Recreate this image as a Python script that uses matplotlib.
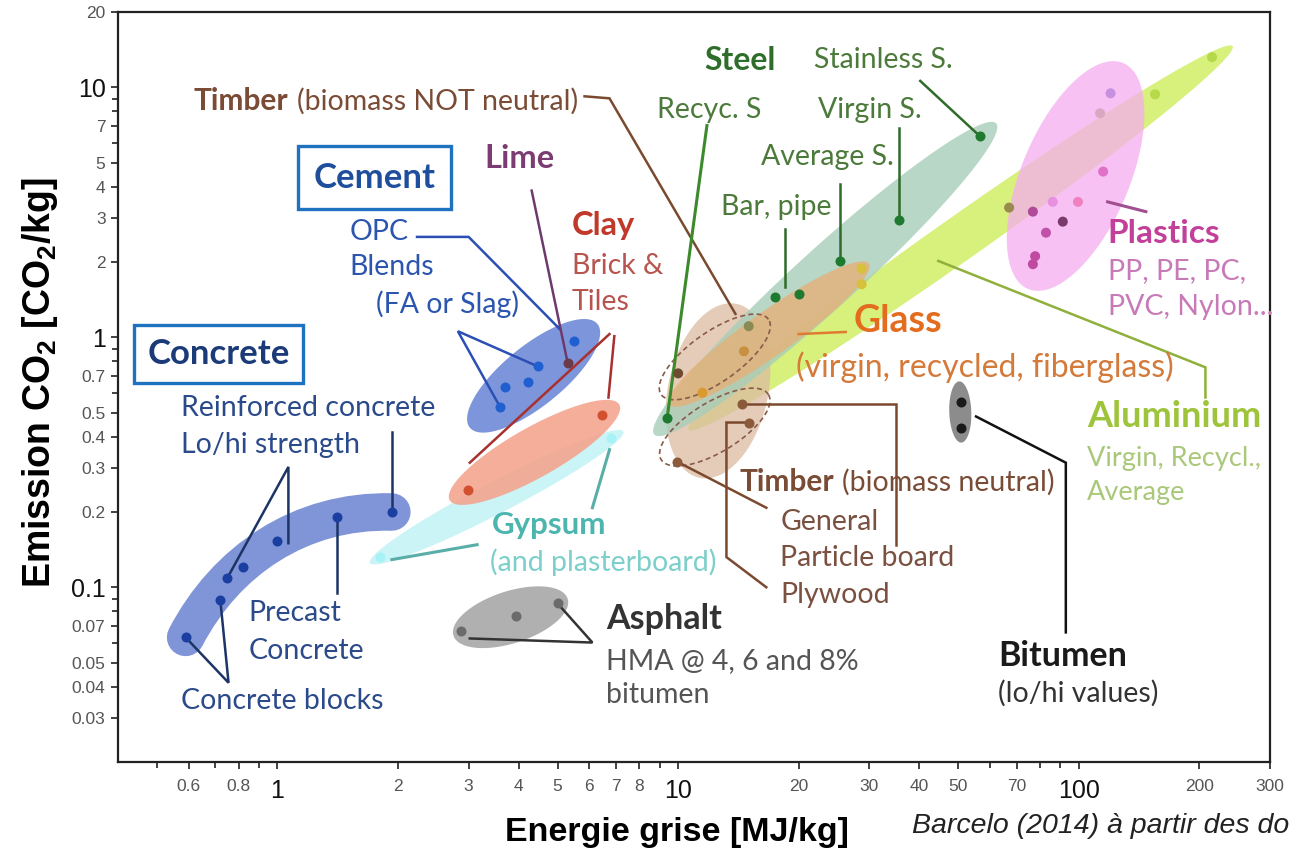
import numpy as np
import matplotlib
matplotlib.use('Agg')
import matplotlib.pyplot as plt
from matplotlib.patches import Polygon, PathPatch
from matplotlib.path import Path
from matplotlib.ticker import NullFormatter

# values (MJ/kg, kgCO2/kg)
concrete_x = [0.59, 0.72, 0.75, 0.82, 1.0, 1.41, 1.93]
concrete_y = [0.063, 0.089, 0.109, 0.12, 0.153, 0.191, 0.2]
cement_x = [5.51, 4.46, 4.21, 3.69, 3.59]
cement_y = [0.963, 0.765, 0.66, 0.63, 0.528]
lime_x = [5.3]
lime_y = [0.79]
clay_x = [6.47, 2.99]
clay_y = [0.49, 0.245]
gypsum_x = [1.80, 6.78]
gypsum_y = [0.132, 0.397]
asphalt_x = [2.87, 3.93, 5.0]
asphalt_y = [0.0666, 0.0765, 0.0862]
timber_nn_x = [15.0, 10.0]          # biomass NOT neutral
timber_nn_y = [1.107, 0.717]
timber_x = [14.4, 15.0, 9.94]       # biomass neutral: particle board, plywood, general
timber_y = [0.543, 0.456, 0.318]
steel_x = [9.39, 17.4, 20.0, 25.3, 35.5, 56.7]
steel_y = [0.477, 1.45, 1.49, 2.02, 2.95, 6.36]
glass_x = [11.5, 14.6, 28.7, 28.7]
glass_y = [0.60, 0.879, 1.88, 1.63]
alu_x = [215, 155, 67]
alu_y = [13.2, 9.37, 3.30]
plastics_x = [120, 113, 115, 99.5, 86.1, 76.8, 91.2, 82.8, 77.8, 76.8]
plastics_y = [9.46, 7.87, 4.6, 3.48, 3.48, 3.18, 2.90, 2.62, 2.11, 1.96]
bitumen_x = [50.9, 50.9]
bitumen_y = [0.553, 0.435]

x_major = [0.6, 0.8, 1, 2, 3, 4, 5, 6, 7, 8, 10, 20, 30, 40, 50, 70, 100, 200, 300]
x_labels = ['0.6', '0.8', '1', '2', '3', '4', '5', '6', '7', '8', '10', '20', '30', '40', '50', '70', '100', '200', '300']
x_minor = [0.5, 0.7, 0.9, 9, 60, 80, 90]
y_major = [0.03, 0.04, 0.05, 0.07, 0.1, 0.2, 0.3, 0.4, 0.5, 0.7, 1, 2, 3, 4, 5, 7, 10, 20]
y_labels = ['0.03', '0.04', '0.05', '0.07', '0.1', '0.2', '0.3', '0.4', '0.5', '0.7', '1', '2', '3', '4', '5', '7', '10', '20']
y_minor = [0.06, 0.08, 0.09, 0.6, 0.8, 0.9, 6, 8, 9]
big_labels = ['1', '10', '100', '0.1']

plt.rcParams['mathtext.fontset'] = 'custom'
plt.rcParams['mathtext.rm'] = 'Liberation Sans'
plt.rcParams['mathtext.bf'] = 'Liberation Sans:bold'

fig = plt.figure(figsize=(12.92, 8.58), dpi=100)
ax = fig.add_axes([118 / 1292, 1 - 762 / 858, 1152 / 1292, 750 / 858])
ax.set_xscale('log')
ax.set_yscale('log')
ax.set_xlim(0.4, 300)
ax.set_ylim(0.02, 20)

for s in ax.spines.values():
    s.set_linewidth(1.6)
    s.set_color('#222222')

ax.set_xticks(x_major, x_labels)
ax.set_xticks(x_minor, minor=True)
ax.set_yticks(y_major, y_labels)
ax.set_yticks(y_minor, minor=True)
ax.xaxis.set_minor_formatter(NullFormatter())
ax.yaxis.set_minor_formatter(NullFormatter())
ax.tick_params(which='both', direction='out', width=1.3, color='#333333')
ax.tick_params(which='major', length=5)
ax.tick_params(which='minor', length=4)
ax.tick_params(axis='x', pad=7)
ax.tick_params(axis='y', pad=4)
for lbl in ax.get_xticklabels() + ax.get_yticklabels():
    lbl.set_family('Liberation Sans')
    if lbl.get_text() in big_labels:
        lbl.set_fontsize(18)
        lbl.set_color('#111111')
    else:
        lbl.set_fontsize(12.5)
        lbl.set_color('#555555')


def blob(p0, p1, hw, color, alpha=1.0, z=1.0, **kw):
    # ellipse between two tips, drawn in screen space then mapped back to data
    a = ax.transData.transform(p0)
    b = ax.transData.transform(p1)
    c = (a + b) / 2
    d = b - a
    half = np.hypot(d[0], d[1]) / 2
    u = d / (2 * half)
    n = np.array([-u[1], u[0]])
    t = np.linspace(0, 2 * np.pi, 120)
    pts = c + np.outer(half * np.cos(t), u) + np.outer(hw * np.sin(t), n)
    ax.add_patch(Polygon(ax.transData.inverted().transform(pts), closed=True,
                         facecolor=color, alpha=alpha, zorder=z, **kw))


def leader(xs, ys, color, lw=1.8):
    ax.plot(xs, ys, color=color, lw=lw, zorder=2.5, solid_joinstyle='miter')


def lab(x, y, s, color, size=20.5, bold=False):
    ax.text(x, y, s, color=color, fontsize=size, family='Lato',
            fontweight='bold' if bold else 'normal', ha='left', va='center', zorder=4)


# blobs
blob((10.6, 0.427), (242, 14.6), 22, '#d8f07c', z=1.0)
blob((11.3, 0.274), (14.0, 1.36), 50, '#dcbba2', alpha=0.75, z=1.05)
blob((8.72, 0.408), (62.2, 7.17), 30, '#a8ceb8', alpha=0.8, z=1.1)
blob((9.5, 0.538), (29.9, 1.97), 22, '#e3b27c', alpha=0.85, z=1.2)
blob((74.7, 1.56), (129, 12.5), 54, '#f5aef0', alpha=0.75, z=1.3)
blob((9.07, 0.59), (16.8, 1.18), 25, 'none', z=2.0, edgecolor='#8a5a4a', lw=1.2, ls=(0, (3, 2)))
blob((9.07, 0.324), (16.8, 0.59), 25, 'none', z=2.0, edgecolor='#8a5a4a', lw=1.2, ls=(0, (3, 2)))
blob((3.02, 0.435), (6.29, 1.13), 30, '#6f8ad6', alpha=0.9, z=1.0)
blob((2.69, 0.223), (7.13, 0.538), 25, '#f4a58f', alpha=0.9, z=1.0)
blob((1.70, 0.125), (7.3, 0.42), 16, '#c6f3f7', alpha=0.9, z=0.9)
blob((2.75, 0.064), (5.3, 0.090), 26, '#a8a8a8', alpha=0.9, z=1.0)
blob((50.3, 0.666), (50.9, 0.379), 11, '#8c8c8c', z=1.0)
# curved concrete band from the first to the last concrete value
band = Path([(concrete_x[0], concrete_y[0]), (0.743, 0.128), (1.14, 0.204),
             (concrete_x[-1], concrete_y[-1])],
            [Path.MOVETO, Path.CURVE4, Path.CURVE4, Path.CURVE4])
ax.add_patch(PathPatch(band, facecolor='none', edgecolor='#8094d8', lw=27,
                       capstyle='round', zorder=1.0))

# leader lines
navy = '#1c3466'
leader([concrete_x[0], 0.755, concrete_x[1]], [concrete_y[0], 0.0415, concrete_y[1]], navy)
leader([concrete_x[5], concrete_x[5]], [concrete_y[5], 0.0946], navy)
leader([concrete_x[2], 1.065, 1.065], [concrete_y[2], 0.303, 0.150], navy)
leader([concrete_x[6], concrete_x[6]], [concrete_y[6], 0.419], navy)
blue = '#2b4fb5'
leader([2.23, 3.0, 5.06], [2.52, 2.52, 1.08], blue)
leader([cement_x[1], 2.82, cement_x[4]], [cement_y[1], 1.057, cement_y[4]], blue)
leader([4.31, lime_x[0]], [3.86, lime_y[0]], '#6d3a6d')
leader([6.74, 3.02], [1.03, 0.315], '#a8302e')
leader([6.93, 6.7], [1.01, 0.574], '#a8302e')
leader([3.15, 1.93], [0.148, 0.129], '#5aaea8', lw=2.2)
leader([6.74, 6.11], [0.355, 0.208], '#5aaea8', lw=2.2)
leader([3.02, 6.11, asphalt_x[2]], [0.0624, 0.0601, asphalt_y[2]], '#333333')
brown = '#7b4a2e'
leader([5.84, 6.74, 13.9], [9.2, 9.03, 1.24], brown)
leader([timber_x[0], 34.9, 34.9], [timber_y[0], timber_y[0], 0.148], brown)
leader([timber_x[1], 13.2, 13.2, 16.6], [timber_y[1], timber_y[1], 0.132, 0.1], brown)
leader([timber_x[2], 16.6], [timber_y[2], 0.208], brown)
green = '#2f6b2a'
leader([11.8, steel_x[0]], [7.03, steel_y[0]], '#3c8a2c', lw=2.2)
leader([40.2, steel_x[5]], [10.6, steel_y[5]], green)
leader([steel_x[4], steel_x[4]], [6.85, steel_y[4]], green)
leader([steel_x[3], steel_x[3]], [4.12, steel_y[3]], green)
leader([18.5, 18.5], [2.71, 1.59], green)
leader([20.0, 26.2], [1.03, 1.05], '#e07a30')
leader([44.6, 207, 207], [2.02, 0.758, 0.574], '#8fb03a')
leader([118, 147], [3.48, 3.18], '#a05090', lw=2.2)
leader([55.4, 92.8, 92.8], [0.482, 0.315, 0.066], '#111111')

# points
pt = dict(s=52, zorder=3, linewidths=0)
ax.scatter(concrete_x, concrete_y, color='#1a3fa0', **pt)
ax.scatter(cement_x, cement_y, color='#1f5fd0', **pt)
ax.scatter(lime_x, lime_y, color='#6b3b4b', **pt)
ax.scatter(clay_x, clay_y, color='#d2502e', **pt)
ax.scatter(gypsum_x, gypsum_y, color='#a6f2f7', **pt)
ax.scatter(asphalt_x, asphalt_y, color='#6b6b6b', **pt)
ax.scatter(timber_nn_x, timber_nn_y, color=['#8a8a55', '#6e4a2e'], **pt)
ax.scatter(timber_x, timber_y, color='#8a5a3a', **pt)
ax.scatter(steel_x, steel_y, color='#1e7a2e', **pt)
ax.scatter(glass_x, glass_y, color=['#d99a30', '#c89040', '#d6c23a', '#d6c23a'], **pt)
ax.scatter(alu_x, alu_y, color=['#b5d94a', '#b5d94a', '#9a8a50'], **pt)
ax.scatter(plastics_x, plastics_y,
           color=['#c890e0', '#d8a8c0', '#e070c8', '#f080c0', '#e890e0',
                  '#b04a9a', '#7a3a6a', '#c050a8', '#c04aa0', '#c04aa0'], **pt)
ax.scatter(bitumen_x, bitumen_y, color='#1a1a1a', **pt)

# labels
box = dict(boxstyle='square,pad=0.38', facecolor='white', edgecolor='#1f72c0', linewidth=2.4)
ax.text(0.713, 0.855, 'Concrete', color='#1b3a78', fontsize=25, family='Lato', fontweight='bold',
        ha='center', va='center', bbox=box, zorder=4)
ax.text(1.75, 4.35, 'Cement', color='#1f4e9c', fontsize=25, family='Lato', fontweight='bold',
        ha='center', va='center', bbox=dict(box, boxstyle='square,pad=0.45'), zorder=4)

c_navy = '#2b4a8a'
lab(0.574, 0.523, 'Reinforced concrete', c_navy)
lab(0.574, 0.372, 'Lo/hi strength', c_navy)
lab(0.847, 0.0787, 'Precast', c_navy)
lab(0.847, 0.0558, 'Concrete', c_navy)
lab(0.574, 0.0352, 'Concrete blocks', c_navy)
c_blue = '#2c55b0'
lab(1.51, 2.64, 'OPC', c_blue)
lab(1.51, 1.91, 'Blends', c_blue)
lab(1.76, 1.36, '(FA or Slag)', c_blue)
lab(3.29, 5.19, 'Lime', '#7b3c72', 23.5, True)
lab(5.42, 2.79, 'Clay', '#c0392b', 23.5, True)
lab(5.42, 1.93, 'Brick &', '#b8544e')
lab(5.42, 1.38, 'Tiles', '#b8544e')
lab(0.618, 8.79, 'Timber', '#7a4b35', 21.5, True)
lab(1.12, 8.79, '(biomass NOT neutral)', '#7a4b35')
lab(11.6, 12.8, 'Steel', '#2f6e2a', 23, True)
c_green = '#4b7a3a'
lab(8.87, 8.09, 'Recyc. S', c_green)
lab(21.8, 12.8, 'Stainless S.', c_green)
lab(22.4, 8.09, 'Virgin S.', c_green)
lab(16.1, 5.28, 'Average S.', c_green)
lab(12.8, 3.33, 'Bar, pipe', c_green)
lab(27.4, 1.16, 'Glass', '#e36c1e', 27, True)
lab(19.7, 0.758, '(virgin, recycled, fiberglass)', '#d47a3a', 23)
lab(118, 2.59, 'Plastics', '#c2409a', 24, True)
lab(118, 1.84, 'PP, PE, PC,', '#c87ab8')
lab(118, 1.32, 'PVC, Nylon...', '#c87ab8')
lab(105, 0.482, 'Aluminium', '#9dc43b', 26, True)
lab(105, 0.327, 'Virgin, Recycl.,', '#a9c87a', 19.5)
lab(105, 0.239, 'Average', '#a9c87a', 19.5)
lab(14.2, 0.264, 'Timber', '#7a4b35', 21.5, True)
lab(25.6, 0.264, '(biomass neutral)', '#7a4b35')
lab(18.0, 0.182, 'General', '#7a5040')
lab(18.0, 0.131, 'Particle board', '#7a5040')
lab(18.0, 0.0929, 'Plywood', '#7a5040')
lab(3.43, 0.177, 'Gypsum', '#4cb5ad', 22.5, True)
lab(3.39, 0.126, '(and plasterboard)', '#7ccfca')
lab(6.62, 0.0744, 'Asphalt', '#333333', 24.5, True)
lab(6.62, 0.0509, 'HMA @ 4, 6 and 8%', '#555555')
lab(6.62, 0.0372, 'bitumen', '#555555')
lab(62.9, 0.0533, 'Bitumen', '#1a1a1a', 24.5, True)
lab(62.9, 0.0375, '(lo/hi values)', '#333333')

fig.text(677 / 1292, 1 - 833 / 858, 'Energie grise [MJ/kg]', family='Liberation Sans',
         fontweight='bold', fontsize=24.5, ha='center', va='center')
fig.text(40 / 1292, 1 - 382 / 858, r'Emission CO$_\mathbf{2}$ [CO$_\mathbf{2}$/kg]',
         family='Liberation Sans', fontweight='bold', fontsize=27, rotation=90,
         ha='center', va='center')
fig.text(912 / 1292, 1 - 826 / 858, 'Barcelo (2014) à partir des do', family='Liberation Sans',
         style='italic', fontsize=20.5, color='#222222', ha='left', va='center')

fig.savefig('out.png', dpi=100)
